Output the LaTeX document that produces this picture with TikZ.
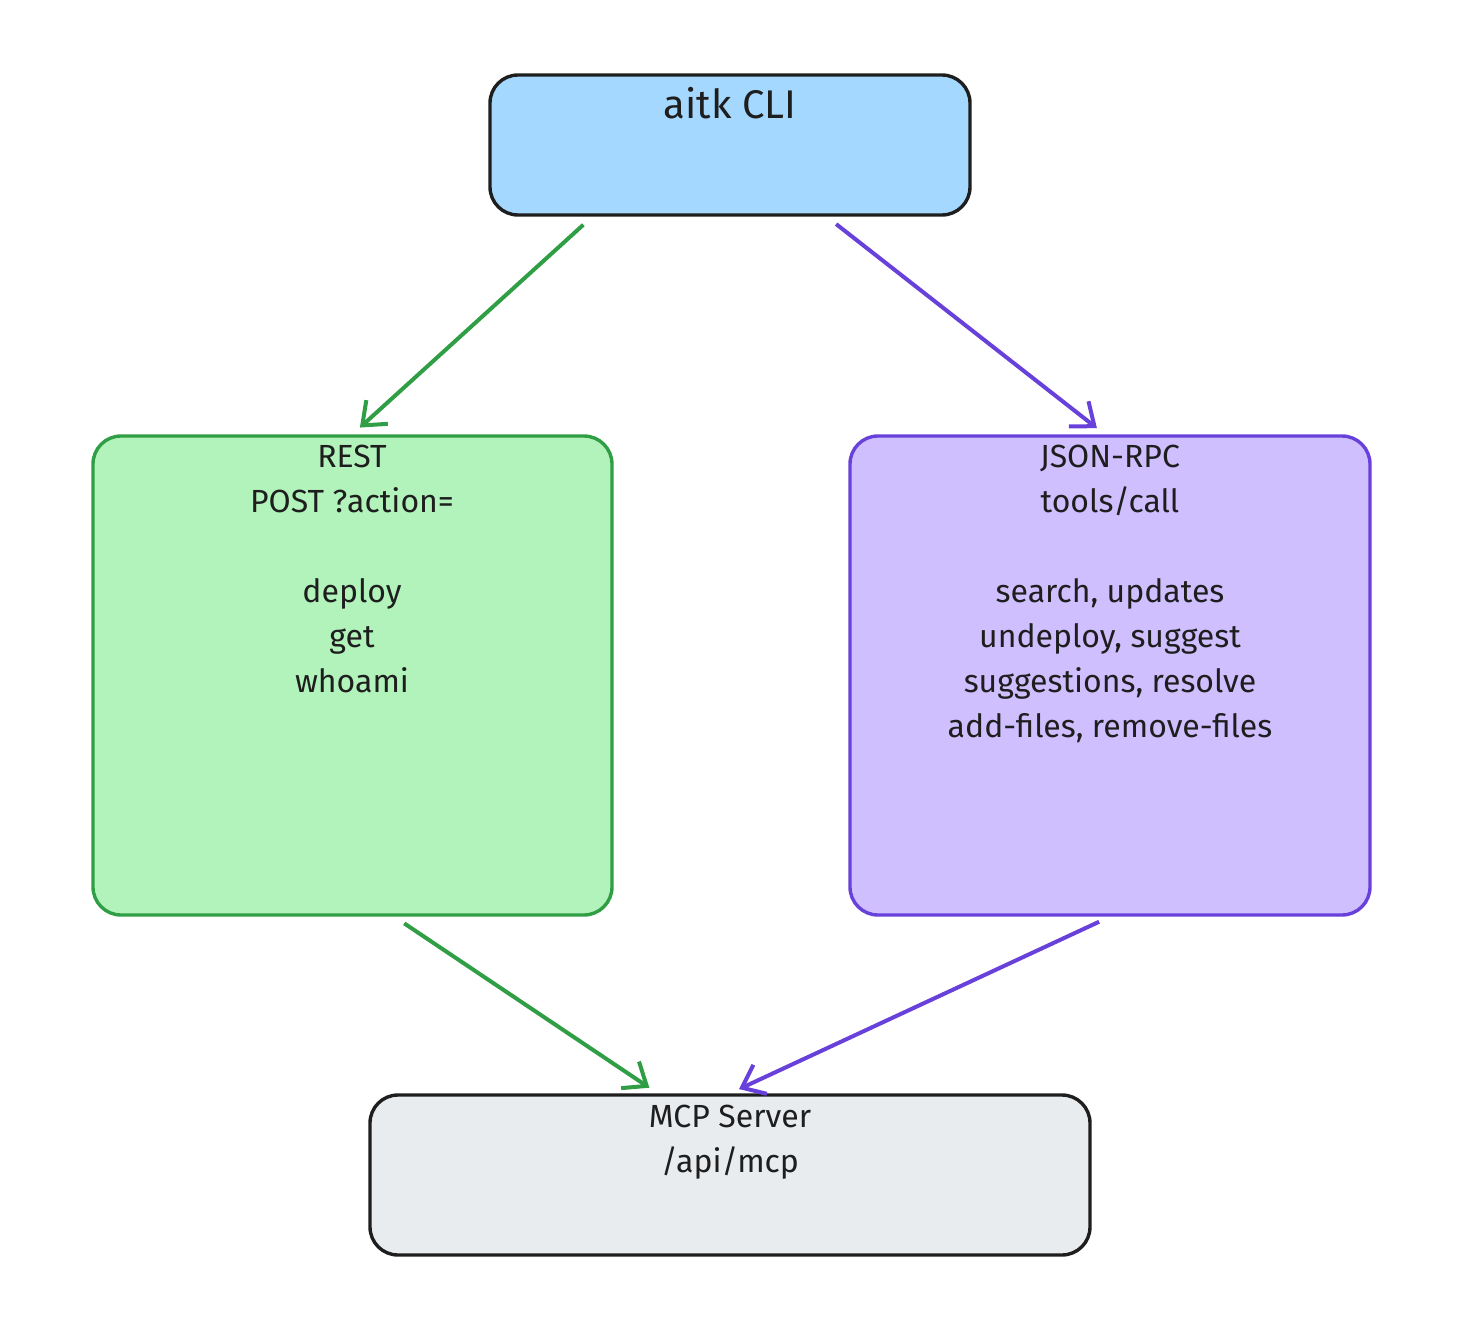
\documentclass[tikz,border=0pt]{standalone}
\usepackage{fontspec}
\setmainfont{Fira Sans}
\usetikzlibrary{arrows.meta, positioning, calc}
\definecolor{cliblue}{HTML}{A5D8FF}
\definecolor{restfill}{HTML}{B2F2BB}
\definecolor{restline}{HTML}{2F9E44}
\definecolor{rpcfill}{HTML}{D0BFFF}
\definecolor{rpcline}{HTML}{6741D9}
\definecolor{srvfill}{HTML}{E9ECEF}
\definecolor{ink}{HTML}{1E1E1E}
\begin{document}
\begin{tikzpicture}[
  x=0.5pt, y=-0.5pt, >={Straight Barb[length=10pt,width=16pt]},
  box/.style={draw, line width=1.7pt, rounded corners=14pt, inner sep=0pt},
  txt/.style={anchor=north, align=center, font=\fontsize{16}{22.5}\selectfont, text=ink},
  flow/.style={->, line width=2pt, shorten <=6pt, shorten >=5pt},
  ]
  \useasboundingbox (0,0) rectangle (1478,1338);

  \node[box, draw=ink, fill=cliblue, minimum width=240pt, minimum height=70pt] (cli) at (730,145) {};
  \node[box, draw=restline, fill=restfill, minimum width=259.5pt, minimum height=239.5pt] (rest) at (352.5,675.5) {};
  \node[box, draw=rpcline, fill=rpcfill, minimum width=260pt, minimum height=239.5pt] (rpc) at (1110,675.5) {};
  \node[box, draw=ink, fill=srvfill, minimum width=360pt, minimum height=80pt] (srv) at (730,1175) {};

  \node[txt, font=\fontsize{20}{24}\selectfont] (clit) at (730,80) {aitk CLI};
  \node[txt] (restt) at (352,438) {REST\\POST ?action=\\[22.5pt]deploy\\get\\whoami};
  \node[txt] (rpct) at (1110,438) {JSON-RPC\\tools/call\\[22.5pt]search, updates\\undeploy, suggest\\suggestions, resolve\\add-files, remove-files};
  \node[txt] (srvt) at (730,1098) {MCP Server\\/api/mcp};

  \draw[flow, restline] ($(cli.south west)!0.215!(cli.south east)$) -- (rest.north);
  \draw[flow, rpcline] ($(cli.south west)!0.7!(cli.south east)$) -- ($(rpc.north west)!0.49!(rpc.north east)$);
  \draw[flow, restline] ($(rest.south west)!0.58!(rest.south east)$) -- ($(srv.north west)!0.4!(srv.north east)$);
  \draw[flow, rpcline] (rpc.south) -- ($(srv.north west)!0.5!(srv.north east)$);
\end{tikzpicture}
\end{document}
